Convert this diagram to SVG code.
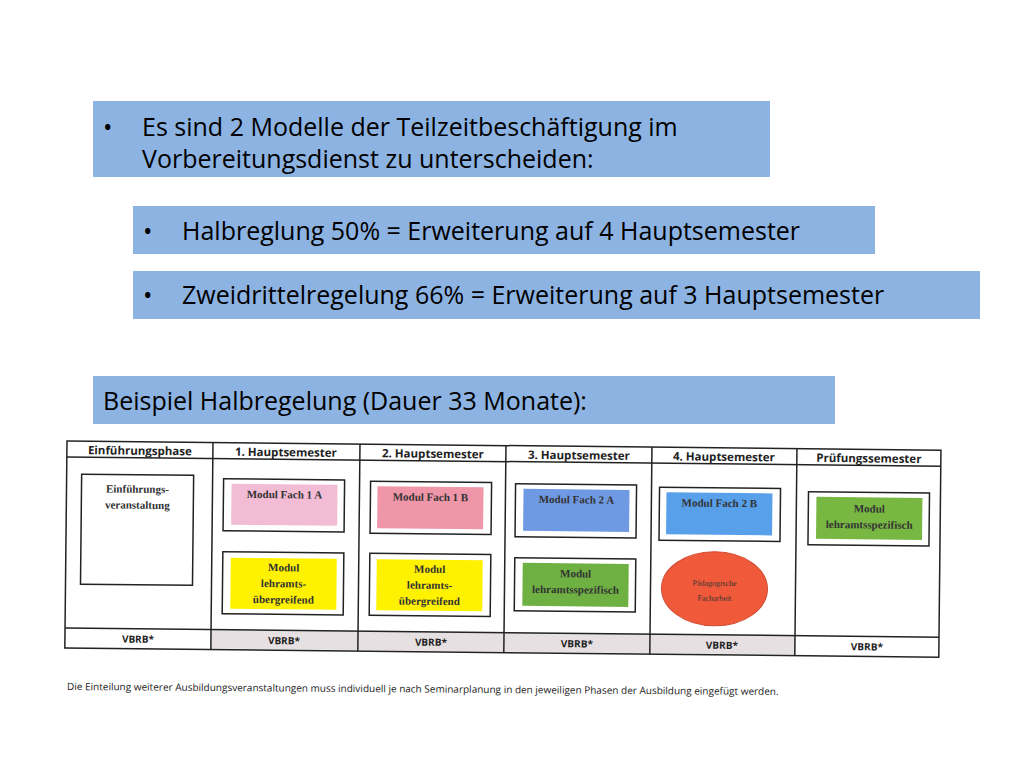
<svg xmlns="http://www.w3.org/2000/svg" width="1024" height="768" viewBox="0 0 1024 768">
<style>
.b{fill:#8db3e2}
.t{font-family:"Open Sans","Liberation Sans",sans-serif;font-size:25px;fill:#000}
.h{font-family:"Open Sans","Liberation Sans",sans-serif;font-size:11.5px;font-weight:bold;fill:#222;text-anchor:middle}
.m{font-family:"Liberation Serif",serif;font-size:11px;font-weight:bold;fill:#333;text-anchor:middle}
.g{fill:none;stroke:#222;stroke-width:1.5}
.bx{fill:#fff;stroke:#222;stroke-width:1.5}
</style>
<rect width="1024" height="768" fill="#fff"/>
<g id="n1"><rect class="b" x="93" y="101" width="677" height="76"/>
<text class="t" x="103" y="136">•</text><text class="t" x="142" y="136">Es sind 2 Modelle der Teilzeitbeschäftigung im</text>
<text class="t" x="142" y="168">Vorbereitungsdienst zu unterscheiden:</text></g>
<g id="n2"><rect class="b" x="133" y="206" width="742" height="48"/>
<text class="t" x="143" y="240">•</text><text class="t" x="182" y="240">Halbreglung 50% = Erweiterung auf 4 Hauptsemester</text></g>
<g id="n3"><rect class="b" x="133" y="271" width="847" height="48"/>
<text class="t" x="143" y="304">•</text><text class="t" x="182" y="304">Zweidrittelregelung 66% = Erweiterung auf 3 Hauptsemester</text></g>
<g id="n4"><rect class="b" x="93" y="376" width="742" height="48"/>
<text class="t" x="103" y="410">Beispiel Halbregelung (Dauer 33 Monate):</text></g>
<g id="table" transform="rotate(0.6 67 441)">
<rect x="213" y="628" width="584" height="19" fill="#e6e0e2"/>
<rect class="g" x="67" y="441" width="874" height="207"/>
<line class="g" x1="67" y1="457" x2="941" y2="457"/>
<line class="g" x1="67" y1="628" x2="941" y2="628"/>
<g class="g"><line x1="213" y1="441" x2="213" y2="648"/><line x1="360" y1="441" x2="360" y2="648"/><line x1="506" y1="441" x2="506" y2="648"/><line x1="652" y1="441" x2="652" y2="648"/><line x1="797" y1="441" x2="797" y2="648"/></g>
<g class="h"><text x="140" y="454">Einführungsphase</text><text x="286" y="454">1. Hauptsemester</text><text x="433" y="454">2. Hauptsemester</text><text x="579" y="454">3. Hauptsemester</text><text x="724" y="454">4. Hauptsemester</text><text x="869" y="454">Prüfungssemester</text></g>
<g class="h" style="font-size:10px"><text x="140" y="642">VBRB*</text><text x="286" y="642">VBRB*</text><text x="433" y="642">VBRB*</text><text x="579" y="642">VBRB*</text><text x="724" y="642">VBRB*</text><text x="869" y="642">VBRB*</text></g>
<rect class="bx" x="82" y="474" width="112" height="110"/>
<text class="m" x="138" y="492">Einführungs-</text><text class="m" x="138" y="508">veranstaltung</text>
<rect class="bx" x="224" y="477" width="121" height="52"/><rect x="232" y="482" width="106" height="41" fill="#f3bcd5"/>
<text class="m" x="285" y="496">Modul Fach 1 A</text>
<rect class="bx" x="224" y="550" width="121" height="62"/><rect x="232" y="556" width="106" height="51" fill="#fff200"/>
<text class="m" x="285" y="569">Modul</text><text class="m" x="285" y="585">lehramts-</text><text class="m" x="285" y="601">übergreifend</text>
<rect class="bx" x="371" y="478" width="121" height="52"/><rect x="378" y="483" width="106" height="42" fill="#ef96a8"/>
<text class="m" x="431" y="497">Modul Fach 1 B</text>
<rect class="bx" x="371" y="550" width="121" height="62"/><rect x="378" y="556" width="106" height="51" fill="#fff200"/>
<text class="m" x="431" y="569">Modul</text><text class="m" x="431" y="585">lehramts-</text><text class="m" x="431" y="601">übergreifend</text>
<rect class="bx" x="516" y="479" width="121" height="53"/><rect x="524" y="484" width="106" height="42" fill="#6f9ae3"/>
<text class="m" x="577" y="498">Modul Fach 2 A</text>
<rect class="bx" x="516" y="553" width="121" height="53"/><rect x="524" y="558" width="106" height="43" fill="#6fb043"/>
<text class="m" x="577" y="572">Modul</text><text class="m" x="577" y="588">lehramtsspezifisch</text>
<rect class="bx" x="660" y="481" width="121" height="53"/><rect x="667" y="486" width="106" height="42" fill="#58a0ea"/>
<text class="m" x="720" y="500">Modul Fach 2 B</text>
<ellipse cx="716" cy="582" rx="53" ry="37" fill="#f05a3a" stroke="#d04a30"/>
<text class="m" x="716" y="579" style="font-size:8px;font-weight:normal">Pädagogische</text><text class="m" x="716" y="594" style="font-size:8px;font-weight:normal">Facharbeit</text>
<rect class="bx" x="809" y="484" width="121" height="53"/><rect x="817" y="489" width="106" height="42" fill="#78b842"/>
<text class="m" x="870" y="504">Modul</text><text class="m" x="870" y="520">lehramtsspezifisch</text>
</g>
<text x="67" y="690" style="font-family:'Open Sans','Liberation Sans',sans-serif;font-size:10px;fill:#222" transform="rotate(0.4 67 690)">Die Einteilung weiterer Ausbildungsveranstaltungen muss individuell je nach Seminarplanung in den jeweiligen Phasen der Ausbildung eingefügt werden.</text>
</svg>
